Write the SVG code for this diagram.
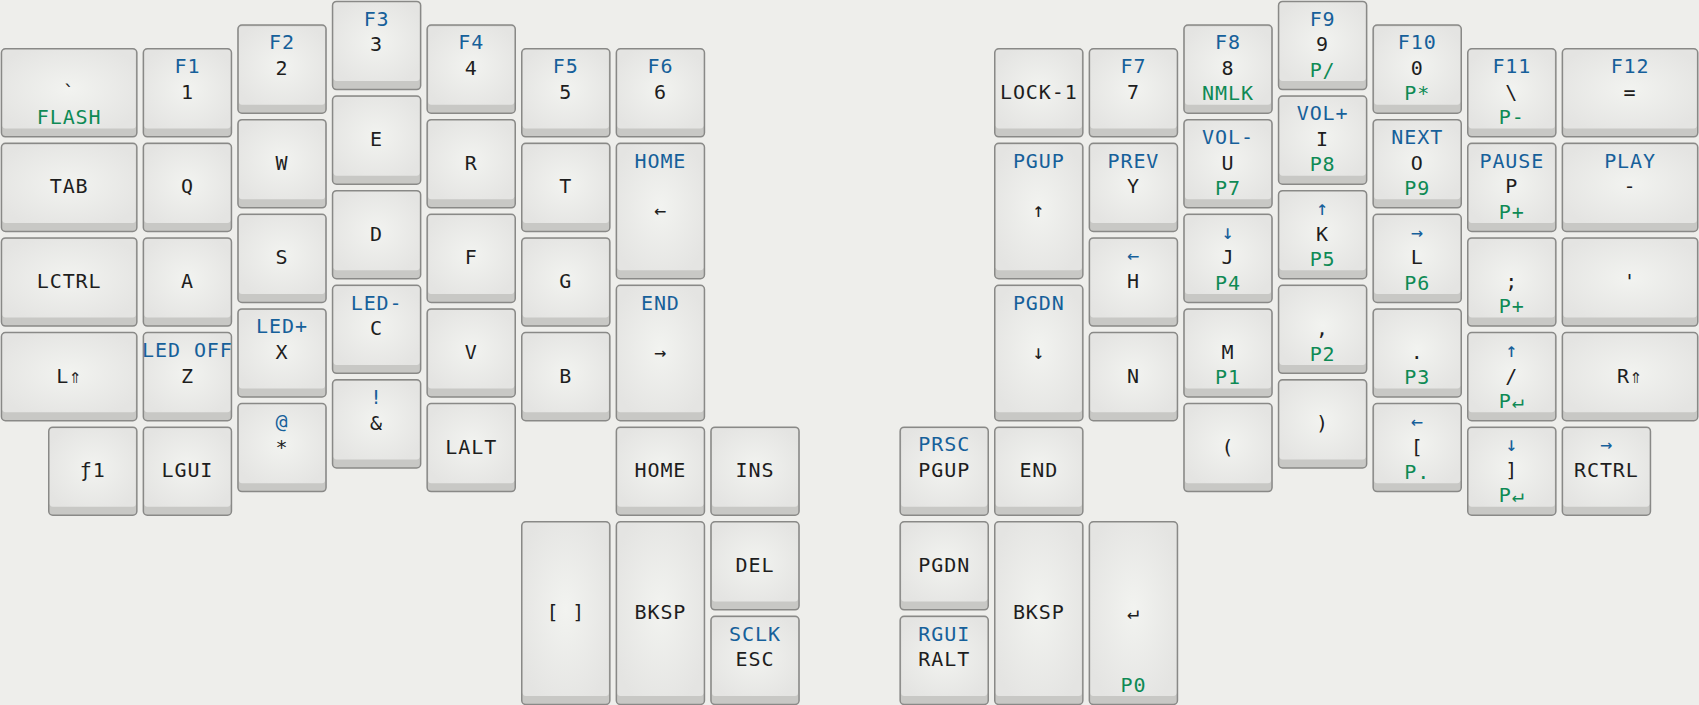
<svg xmlns="http://www.w3.org/2000/svg" xmlns:xlink="http://www.w3.org/1999/xlink" width="1699" height="705" viewBox="0 0 1699 705">
<style>
.o{fill:#c8c8c5;stroke:#898987;stroke-width:1.5}
.f{fill:url(#face)}
text{font-family:"DejaVu Sans Mono","Liberation Mono",monospace;font-size:20px;text-anchor:middle;letter-spacing:0.9px;fill:#1e1e1e}
text.b{fill:#16609a}
text.g{fill:#0e8a55}
</style>
<defs>
<radialGradient id="face" cx="0.5" cy="0.5" r="0.6">
<stop offset="0" stop-color="#f2f3f0"/>
<stop offset="1" stop-color="#e4e4e2"/>
</radialGradient>
<g id="s11"><rect class="o" x="0.75" y="0.75" width="88.1" height="88.1" rx="4"/><rect class="f" x="1.8" y="1.8" width="86" height="78.6" rx="3"/></g>
<g id="s151"><rect class="o" x="0.75" y="0.75" width="135.4" height="88.1" rx="4"/><rect class="f" x="1.8" y="1.8" width="133.3" height="78.6" rx="3"/></g>
<g id="s115"><rect class="o" x="0.75" y="0.75" width="88.1" height="135.4" rx="4"/><rect class="f" x="1.8" y="1.8" width="86" height="125.9" rx="3"/></g>
<g id="s12"><rect class="o" x="0.75" y="0.75" width="88.1" height="182.7" rx="4"/><rect class="f" x="1.8" y="1.8" width="86" height="173.2" rx="3"/></g>
</defs>
<rect width="1699" height="705" fill="#eeeeeb"/>

<g id="left-hand">
<g id="k-grave" transform="translate(0.7,48)"><use xlink:href="#s151"/><text x="68.45" y="50.8">`</text><text class="g" x="68.45" y="76">FLASH</text></g>
<g id="k-tab" transform="translate(0.7,142.6)"><use xlink:href="#s151"/><text x="68.45" y="50.8">TAB</text></g>
<g id="k-lctrl" transform="translate(0.7,237.2)"><use xlink:href="#s151"/><text x="68.45" y="50.8">LCTRL</text></g>
<g id="k-lshift" transform="translate(0.7,331.8)"><use xlink:href="#s151"/><text x="68.45" y="50.8">L⇑</text></g>
<g id="k-fn" transform="translate(48,426.4)"><use xlink:href="#s11"/><text x="44.8" y="50.8">ƒ1</text></g>

<g id="k-1" transform="translate(142.6,48)"><use xlink:href="#s11"/><text class="b" x="44.8" y="25">F1</text><text x="44.8" y="50.8">1</text></g>
<g id="k-q" transform="translate(142.6,142.6)"><use xlink:href="#s11"/><text x="44.8" y="50.8">Q</text></g>
<g id="k-a" transform="translate(142.6,237.2)"><use xlink:href="#s11"/><text x="44.8" y="50.8">A</text></g>
<g id="k-z" transform="translate(142.6,331.8)"><use xlink:href="#s11"/><text class="b" x="44.8" y="25">LED OFF</text><text x="44.8" y="50.8">Z</text></g>
<g id="k-lgui" transform="translate(142.6,426.4)"><use xlink:href="#s11"/><text x="44.8" y="50.8">LGUI</text></g>

<g id="k-2" transform="translate(237.2,24.35)"><use xlink:href="#s11"/><text class="b" x="44.8" y="25">F2</text><text x="44.8" y="50.8">2</text></g>
<g id="k-w" transform="translate(237.2,118.95)"><use xlink:href="#s11"/><text x="44.8" y="50.8">W</text></g>
<g id="k-s" transform="translate(237.2,213.55)"><use xlink:href="#s11"/><text x="44.8" y="50.8">S</text></g>
<g id="k-x" transform="translate(237.2,308.15)"><use xlink:href="#s11"/><text class="b" x="44.8" y="25">LED+</text><text x="44.8" y="50.8">X</text></g>
<g id="k-star" transform="translate(237.2,402.75)"><use xlink:href="#s11"/><text class="b" x="44.8" y="25">@</text><text x="44.8" y="50.8">*</text></g>

<g id="k-3" transform="translate(331.8,0.7)"><use xlink:href="#s11"/><text class="b" x="44.8" y="25">F3</text><text x="44.8" y="50.8">3</text></g>
<g id="k-e" transform="translate(331.8,95.3)"><use xlink:href="#s11"/><text x="44.8" y="50.8">E</text></g>
<g id="k-d" transform="translate(331.8,189.9)"><use xlink:href="#s11"/><text x="44.8" y="50.8">D</text></g>
<g id="k-c" transform="translate(331.8,284.5)"><use xlink:href="#s11"/><text class="b" x="44.8" y="25">LED-</text><text x="44.8" y="50.8">C</text></g>
<g id="k-amp" transform="translate(331.8,379.1)"><use xlink:href="#s11"/><text class="b" x="44.8" y="25">!</text><text x="44.8" y="50.8">&amp;</text></g>

<g id="k-4" transform="translate(426.4,24.35)"><use xlink:href="#s11"/><text class="b" x="44.8" y="25">F4</text><text x="44.8" y="50.8">4</text></g>
<g id="k-r" transform="translate(426.4,118.95)"><use xlink:href="#s11"/><text x="44.8" y="50.8">R</text></g>
<g id="k-f" transform="translate(426.4,213.55)"><use xlink:href="#s11"/><text x="44.8" y="50.8">F</text></g>
<g id="k-v" transform="translate(426.4,308.15)"><use xlink:href="#s11"/><text x="44.8" y="50.8">V</text></g>
<g id="k-lalt" transform="translate(426.4,402.75)"><use xlink:href="#s11"/><text x="44.8" y="50.8">LALT</text></g>

<g id="k-5" transform="translate(521,48)"><use xlink:href="#s11"/><text class="b" x="44.8" y="25">F5</text><text x="44.8" y="50.8">5</text></g>
<g id="k-t" transform="translate(521,142.6)"><use xlink:href="#s11"/><text x="44.8" y="50.8">T</text></g>
<g id="k-g" transform="translate(521,237.2)"><use xlink:href="#s11"/><text x="44.8" y="50.8">G</text></g>
<g id="k-b" transform="translate(521,331.8)"><use xlink:href="#s11"/><text x="44.8" y="50.8">B</text></g>

<g id="k-6" transform="translate(615.6,48)"><use xlink:href="#s11"/><text class="b" x="44.8" y="25">F6</text><text x="44.8" y="50.8">6</text></g>
<g id="k-left" transform="translate(615.6,142.6)"><use xlink:href="#s115"/><text class="b" x="44.8" y="25">HOME</text><text x="44.8" y="74.5">←</text></g>
<g id="k-right" transform="translate(615.6,284.5)"><use xlink:href="#s115"/><text class="b" x="44.8" y="25">END</text><text x="44.8" y="74.5">→</text></g>

<g id="k-home" transform="translate(615.6,426.4)"><use xlink:href="#s11"/><text x="44.8" y="50.8">HOME</text></g>
<g id="k-ins" transform="translate(710.2,426.4)"><use xlink:href="#s11"/><text x="44.8" y="50.8">INS</text></g>
<g id="k-brackets" transform="translate(521,521)"><use xlink:href="#s12"/><text x="44.8" y="98.1">[ ]</text></g>
<g id="k-bksp-l" transform="translate(615.6,521)"><use xlink:href="#s12"/><text x="44.8" y="98.1">BKSP</text></g>
<g id="k-del" transform="translate(710.2,521)"><use xlink:href="#s11"/><text x="44.8" y="50.8">DEL</text></g>
<g id="k-esc" transform="translate(710.2,615.6)"><use xlink:href="#s11"/><text class="b" x="44.8" y="25">SCLK</text><text x="44.8" y="50.8">ESC</text></g>
</g>

<g id="right-hand">
<g id="k-prsc" transform="translate(899.4,426.4)"><use xlink:href="#s11"/><text class="b" x="44.8" y="25">PRSC</text><text x="44.8" y="50.8">PGUP</text></g>
<g id="k-pgdn-t" transform="translate(899.4,521)"><use xlink:href="#s11"/><text x="44.8" y="50.8">PGDN</text></g>
<g id="k-ralt" transform="translate(899.4,615.6)"><use xlink:href="#s11"/><text class="b" x="44.8" y="25">RGUI</text><text x="44.8" y="50.8">RALT</text></g>
<g id="k-end-t" transform="translate(994,426.4)"><use xlink:href="#s11"/><text x="44.8" y="50.8">END</text></g>
<g id="k-bksp-r" transform="translate(994,521)"><use xlink:href="#s12"/><text x="44.8" y="98.1">BKSP</text></g>
<g id="k-enter" transform="translate(1088.6,521)"><use xlink:href="#s12"/><text x="44.8" y="98.1">↵</text><text class="g" x="44.8" y="170.6">P0</text></g>

<g id="k-lock" transform="translate(994,48)"><use xlink:href="#s11"/><text x="44.8" y="50.8">LOCK-1</text></g>
<g id="k-pgup" transform="translate(994,142.6)"><use xlink:href="#s115"/><text class="b" x="44.8" y="25">PGUP</text><text x="44.8" y="74.5">↑</text></g>
<g id="k-pgdn" transform="translate(994,284.5)"><use xlink:href="#s115"/><text class="b" x="44.8" y="25">PGDN</text><text x="44.8" y="74.5">↓</text></g>

<g id="k-7" transform="translate(1088.6,48)"><use xlink:href="#s11"/><text class="b" x="44.8" y="25">F7</text><text x="44.8" y="50.8">7</text></g>
<g id="k-y" transform="translate(1088.6,142.6)"><use xlink:href="#s11"/><text class="b" x="44.8" y="25">PREV</text><text x="44.8" y="50.8">Y</text></g>
<g id="k-h" transform="translate(1088.6,237.2)"><use xlink:href="#s11"/><text class="b" x="44.8" y="25">←</text><text x="44.8" y="50.8">H</text></g>
<g id="k-n" transform="translate(1088.6,331.8)"><use xlink:href="#s11"/><text x="44.8" y="50.8">N</text></g>

<g id="k-8" transform="translate(1183.2,24.35)"><use xlink:href="#s11"/><text class="b" x="44.8" y="25">F8</text><text x="44.8" y="50.8">8</text><text class="g" x="44.8" y="76">NMLK</text></g>
<g id="k-u" transform="translate(1183.2,118.95)"><use xlink:href="#s11"/><text class="b" x="44.8" y="25">VOL-</text><text x="44.8" y="50.8">U</text><text class="g" x="44.8" y="76">P7</text></g>
<g id="k-j" transform="translate(1183.2,213.55)"><use xlink:href="#s11"/><text class="b" x="44.8" y="25">↓</text><text x="44.8" y="50.8">J</text><text class="g" x="44.8" y="76">P4</text></g>
<g id="k-m" transform="translate(1183.2,308.15)"><use xlink:href="#s11"/><text x="44.8" y="50.8">M</text><text class="g" x="44.8" y="76">P1</text></g>
<g id="k-lparen" transform="translate(1183.2,402.75)"><use xlink:href="#s11"/><text x="44.8" y="50.8">(</text></g>

<g id="k-9" transform="translate(1277.8,0.7)"><use xlink:href="#s11"/><text class="b" x="44.8" y="25">F9</text><text x="44.8" y="50.8">9</text><text class="g" x="44.8" y="76">P/</text></g>
<g id="k-i" transform="translate(1277.8,95.3)"><use xlink:href="#s11"/><text class="b" x="44.8" y="25">VOL+</text><text x="44.8" y="50.8">I</text><text class="g" x="44.8" y="76">P8</text></g>
<g id="k-k" transform="translate(1277.8,189.9)"><use xlink:href="#s11"/><text class="b" x="44.8" y="25">↑</text><text x="44.8" y="50.8">K</text><text class="g" x="44.8" y="76">P5</text></g>
<g id="k-comma" transform="translate(1277.8,284.5)"><use xlink:href="#s11"/><text x="44.8" y="50.8">,</text><text class="g" x="44.8" y="76">P2</text></g>
<g id="k-rparen" transform="translate(1277.8,379.1)"><use xlink:href="#s11"/><text x="44.8" y="50.8">)</text></g>

<g id="k-0" transform="translate(1372.4,24.35)"><use xlink:href="#s11"/><text class="b" x="44.8" y="25">F10</text><text x="44.8" y="50.8">0</text><text class="g" x="44.8" y="76">P*</text></g>
<g id="k-o" transform="translate(1372.4,118.95)"><use xlink:href="#s11"/><text class="b" x="44.8" y="25">NEXT</text><text x="44.8" y="50.8">O</text><text class="g" x="44.8" y="76">P9</text></g>
<g id="k-l" transform="translate(1372.4,213.55)"><use xlink:href="#s11"/><text class="b" x="44.8" y="25">→</text><text x="44.8" y="50.8">L</text><text class="g" x="44.8" y="76">P6</text></g>
<g id="k-dot" transform="translate(1372.4,308.15)"><use xlink:href="#s11"/><text x="44.8" y="50.8">.</text><text class="g" x="44.8" y="76">P3</text></g>
<g id="k-lbr" transform="translate(1372.4,402.75)"><use xlink:href="#s11"/><text class="b" x="44.8" y="25">←</text><text x="44.8" y="50.8">[</text><text class="g" x="44.8" y="76">P.</text></g>

<g id="k-bslash" transform="translate(1467,48)"><use xlink:href="#s11"/><text class="b" x="44.8" y="25">F11</text><text x="44.8" y="50.8">\</text><text class="g" x="44.8" y="76">P-</text></g>
<g id="k-p" transform="translate(1467,142.6)"><use xlink:href="#s11"/><text class="b" x="44.8" y="25">PAUSE</text><text x="44.8" y="50.8">P</text><text class="g" x="44.8" y="76">P+</text></g>
<g id="k-semi" transform="translate(1467,237.2)"><use xlink:href="#s11"/><text x="44.8" y="50.8">;</text><text class="g" x="44.8" y="76">P+</text></g>
<g id="k-slash" transform="translate(1467,331.8)"><use xlink:href="#s11"/><text class="b" x="44.8" y="25">↑</text><text x="44.8" y="50.8">/</text><text class="g" x="44.8" y="76">P↵</text></g>
<g id="k-rbr" transform="translate(1467,426.4)"><use xlink:href="#s11"/><text class="b" x="44.8" y="25">↓</text><text x="44.8" y="50.8">]</text><text class="g" x="44.8" y="76">P↵</text></g>

<g id="k-eq" transform="translate(1561.6,48)"><use xlink:href="#s151"/><text class="b" x="68.45" y="25">F12</text><text x="68.45" y="50.8">=</text></g>
<g id="k-minus" transform="translate(1561.6,142.6)"><use xlink:href="#s151"/><text class="b" x="68.45" y="25">PLAY</text><text x="68.45" y="50.8">-</text></g>
<g id="k-quote" transform="translate(1561.6,237.2)"><use xlink:href="#s151"/><text x="68.45" y="50.8">'</text></g>
<g id="k-rshift" transform="translate(1561.6,331.8)"><use xlink:href="#s151"/><text x="68.45" y="50.8">R⇑</text></g>
<g id="k-rctrl" transform="translate(1561.6,426.4)"><use xlink:href="#s11"/><text class="b" x="44.8" y="25">→</text><text x="44.8" y="50.8">RCTRL</text></g>
</g>
</svg>
